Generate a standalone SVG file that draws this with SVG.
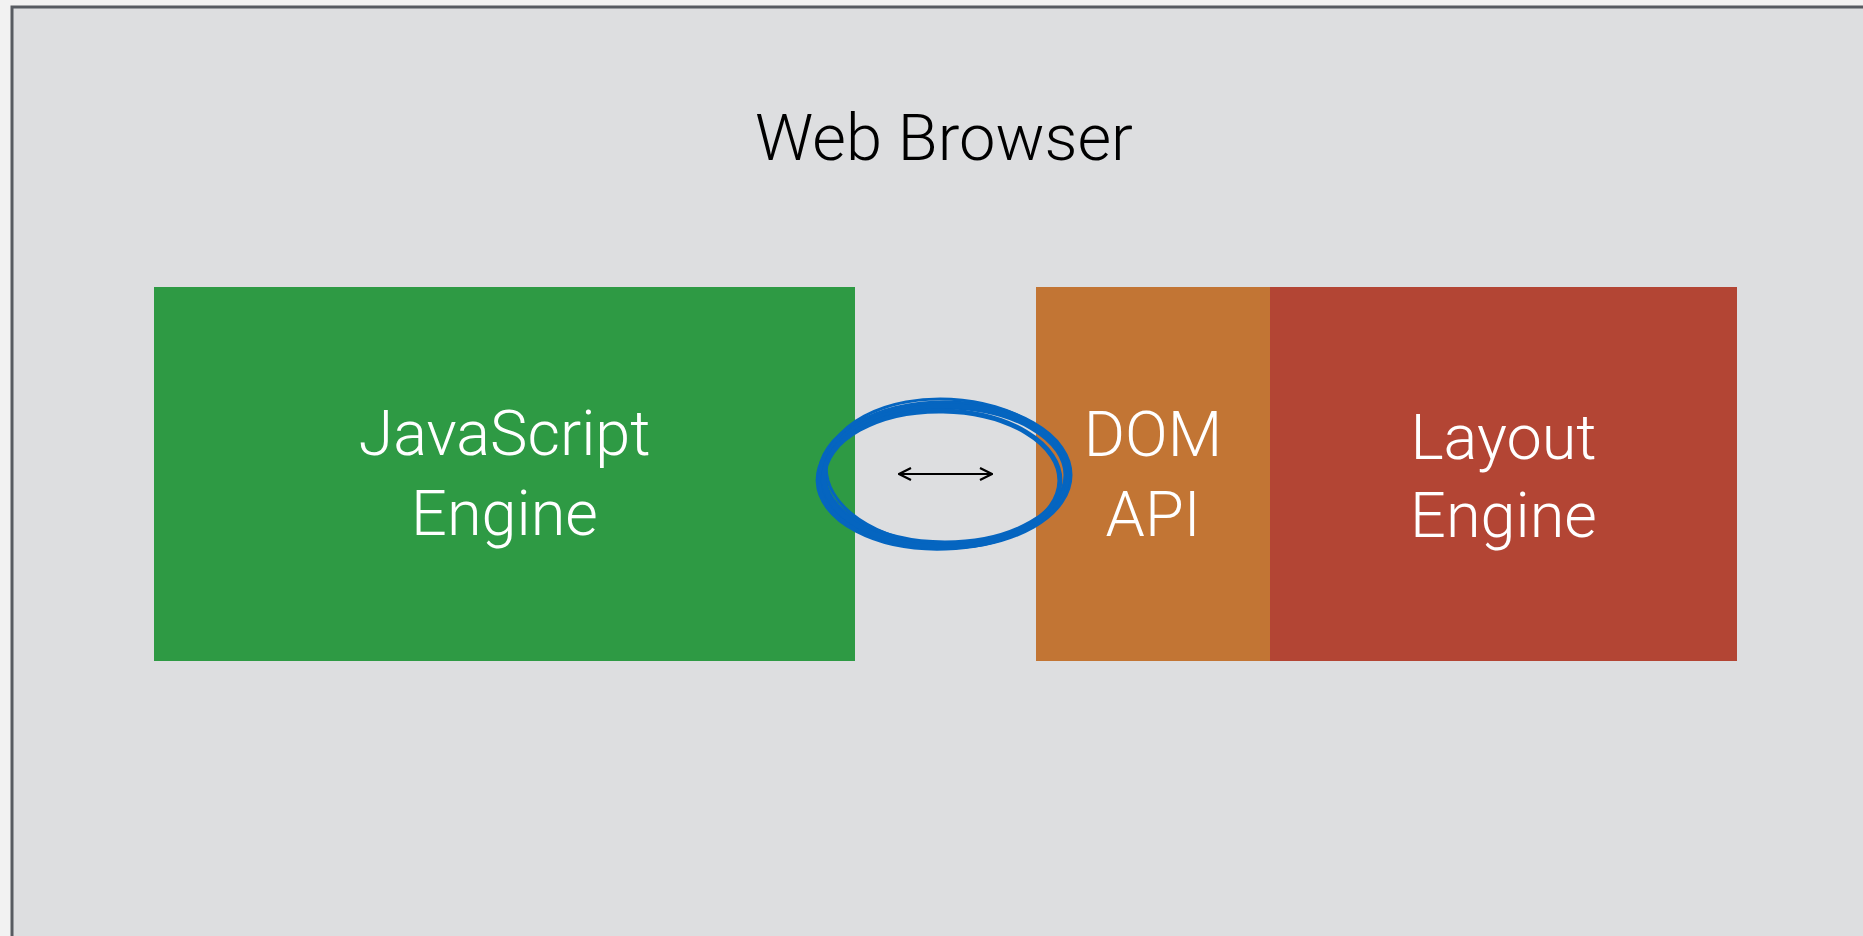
<svg xmlns="http://www.w3.org/2000/svg" width="1863" height="936" viewBox="0 0 1863 936">
<defs>
<style>
.lbl{font-family:Roboto,"Liberation Sans",sans-serif;font-weight:300;fill:#ffffff;font-size:63px;text-anchor:middle}
.title{font-family:Roboto,"Liberation Sans",sans-serif;font-weight:300;fill:#000000;font-size:65px;text-anchor:middle}
.ring{fill:none;stroke:#0565c0}
</style>
<marker id="head" viewBox="0 0 14 14" refX="13" refY="7" markerWidth="14" markerHeight="14" markerUnits="userSpaceOnUse" orient="auto-start-reverse">
<path d="M1,1 L13,7 L1,13" fill="none" stroke="#000" stroke-width="2.2"/>
</marker>
</defs>
<rect x="0" y="0" width="1863" height="936" fill="#f2f2f2"/>
<rect x="12" y="7" width="1860" height="940" fill="#dddee0" stroke="#575b61" stroke-width="3"/>
<text class="title" x="944" y="160">Web Browser</text>
<g id="js-engine">
<rect x="154" y="287" width="701" height="374" fill="#2e9a44"/>
<text class="lbl" x="504.5" y="455">JavaScript</text>
<text class="lbl" x="504.5" y="535">Engine</text>
</g>
<g id="dom-api">
<rect x="1036" y="287" width="234" height="374" fill="#c27534"/>
<text class="lbl" x="1153" y="456">DOM</text>
<text class="lbl" x="1153" y="536">API</text>
</g>
<g id="layout-engine">
<rect x="1270" y="287" width="467" height="374" fill="#b34534"/>
<text class="lbl" x="1503.5" y="459">Layout</text>
<text class="lbl" x="1503.5" y="537">Engine</text>
</g>
<g id="connectors">
<g id="highlight">
<ellipse class="ring" cx="945" cy="475" rx="123" ry="70" stroke-width="9"/>
<ellipse class="ring" cx="943" cy="477" rx="125" ry="71" stroke-width="5" transform="rotate(-2 945 474)"/>
<ellipse class="ring" cx="947" cy="472" rx="121" ry="73" stroke-width="3" transform="rotate(3 945 474)"/>
<ellipse class="ring" cx="942" cy="479" rx="118" ry="68" stroke-width="5" transform="rotate(1 945 474)"/>
</g>
<line x1="899" y1="474" x2="992" y2="474" stroke="#000" stroke-width="2" marker-start="url(#head)" marker-end="url(#head)"/>
</g>
</svg>
